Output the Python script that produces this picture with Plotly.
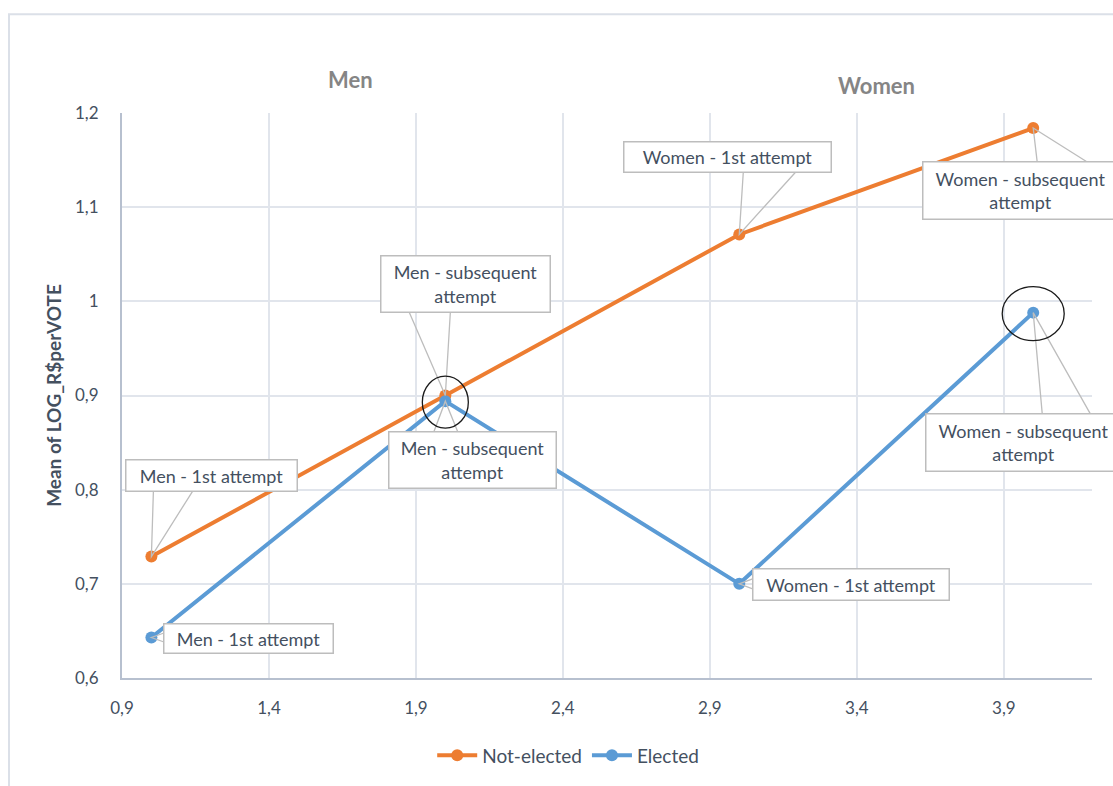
import plotly.graph_objects as go

# Mean of LOG_R$perVOTE by group position (1-4) for each outcome
x_pos = [1, 2, 3, 4]
not_elected = [0.729, 0.900, 1.071, 1.184]
elected = [0.643, 0.894, 0.700, 0.988]
group_labels = [
    "Men - 1st attempt",
    "Men - subsequent<br>attempt",
    "Women - 1st attempt",
    "Women - subsequent<br>attempt",
]
y_ticks = [0.6, 0.7, 0.8, 0.9, 1.0, 1.1, 1.2]

ORANGE = "#ed7d31"
BLUE = "#5b9bd5"
TEXT = "#44505f"
GRID = "#e1e5ec"
AXIS = "#b7c0cf"
CALLOUT = "#bdbdbd"
FONT = "Lato, 'Open Sans', sans-serif"

fig = go.Figure()
fig.add_trace(go.Scatter(
    x=x_pos, y=not_elected, mode="lines+markers", name="Not-elected",
    line=dict(color=ORANGE, width=4), marker=dict(color=ORANGE, size=12),
))
fig.add_trace(go.Scatter(
    x=x_pos, y=elected, mode="lines+markers", name="Elected",
    line=dict(color=BLUE, width=4), marker=dict(color=BLUE, size=12),
))

# Callout placement per point: box centre shift (px, y up), box size,
# and the two wedge feet of the pointer (px relative to the point, y up)
callouts_not_elected = [
    dict(shift=(60, 81), size=(172, 32), wedge=((2, 65), (41, 65))),
    dict(shift=(20, 112), size=(170, 57), wedge=((-36, 83), (5, 83))),
    dict(shift=(-12, 77), size=(208, 31), wedge=((4, 62), (56, 62))),
    dict(shift=(-13, -62), size=(196, 58), wedge=((4, -34), (54, -34))),
]
callouts_elected = [
    dict(shift=(97, -1), size=(170, 30), wedge=((14, 5), (14, -5))),
    dict(shift=(27, -59), size=(168, 57), wedge=((-12, -32), (13, -32))),
    dict(shift=(112, -1), size=(197, 32), wedge=((16, 6), (16, -6))),
    dict(shift=(-10, -130), size=(196, 58), wedge=((9, -101), (57, -101))),
]

shapes = []
annotations = []
for ys, specs in ((not_elected, callouts_not_elected), (elected, callouts_elected)):
    for xv, yv, lab, sp in zip(x_pos, ys, group_labels, specs):
        (a, b), (c, d) = sp["wedge"]
        shapes.append(dict(
            type="path", xref="x", yref="y", xsizemode="pixel", ysizemode="pixel",
            xanchor=xv, yanchor=yv,
            path=f"M {a},{b} L 0,0 L {c},{d}",
            line=dict(color=CALLOUT, width=1.3), layer="above",
        ))
        w, h = sp["size"]
        annotations.append(dict(
            x=xv, y=yv, xref="x", yref="y", text=lab, showarrow=False,
            xshift=sp["shift"][0], yshift=sp["shift"][1],
            width=w - 10, height=h - 10, align="center", valign="middle",
            bgcolor="white", bordercolor=CALLOUT, borderwidth=1.5, borderpad=4,
            font=dict(family=FONT, size=18, color=TEXT),
        ))

# Highlight rings around two Elected points
for xv, yv, rx, ry in ((x_pos[1], elected[1], 23, 26), (x_pos[3], elected[3], 31, 27)):
    shapes.append(dict(
        type="circle", xref="x", yref="y", xsizemode="pixel", ysizemode="pixel",
        xanchor=xv, yanchor=yv, x0=-rx, x1=rx, y0=-ry - 1, y1=ry - 1,
        line=dict(color="#1a1a1a", width=1.3), layer="above",
    ))

# Outer chart frame
shapes.append(dict(
    type="rect", xref="paper", yref="paper", x0=-0.1165, x1=1.2, y0=-0.4, y1=1.175,
    line=dict(color="#dbe0e8", width=2), fillcolor="rgba(0,0,0,0)", layer="below",
))

# Group headings
annotations.append(dict(x=0.236, y=1.06, xref="paper", yref="paper", text="<b>Men</b>",
                        xanchor="center", yanchor="middle", showarrow=False,
                        font=dict(family=FONT, size=22, color="#858585")))
annotations.append(dict(x=0.778, y=1.048, xref="paper", yref="paper", text="<b>Women</b>",
                        xanchor="center", yanchor="middle", showarrow=False,
                        font=dict(family=FONT, size=22, color="#858585")))

fig.update_layout(
    width=1113, height=786,
    margin=dict(l=122, r=21, t=113, b=104),
    paper_bgcolor="white", plot_bgcolor="white",
    separators=", ",
    font=dict(family=FONT, size=17, color=TEXT),
    showlegend=True,
    legend=dict(orientation="h", x=0.46, y=-0.137, xanchor="center", yanchor="middle",
                font=dict(family=FONT, size=19, color=TEXT), itemwidth=40,
                bgcolor="rgba(0,0,0,0)"),
    shapes=shapes, annotations=annotations,
)
fig.update_xaxes(
    range=[0.9, 4.2], tick0=0.9, dtick=0.5, showgrid=True, gridcolor=GRID, gridwidth=1.5,
    showline=True, linecolor=AXIS, linewidth=2, zeroline=False, ticks="",
    ticklabelstandoff=14, tickfont=dict(family=FONT, size=17, color=TEXT),
)
fig.update_yaxes(
    range=[0.6, 1.2], tickvals=y_ticks, showgrid=True, gridcolor=GRID, gridwidth=1.5,
    showline=True, linecolor=AXIS, linewidth=2, zeroline=False, ticks="",
    ticklabelstandoff=18, tickfont=dict(family=FONT, size=17, color=TEXT),
    title=dict(text="<b>Mean of LOG_R$perVOTE</b>", standoff=8,
               font=dict(family=FONT, size=19, color=TEXT)),
)

fig.write_html("out.html")
